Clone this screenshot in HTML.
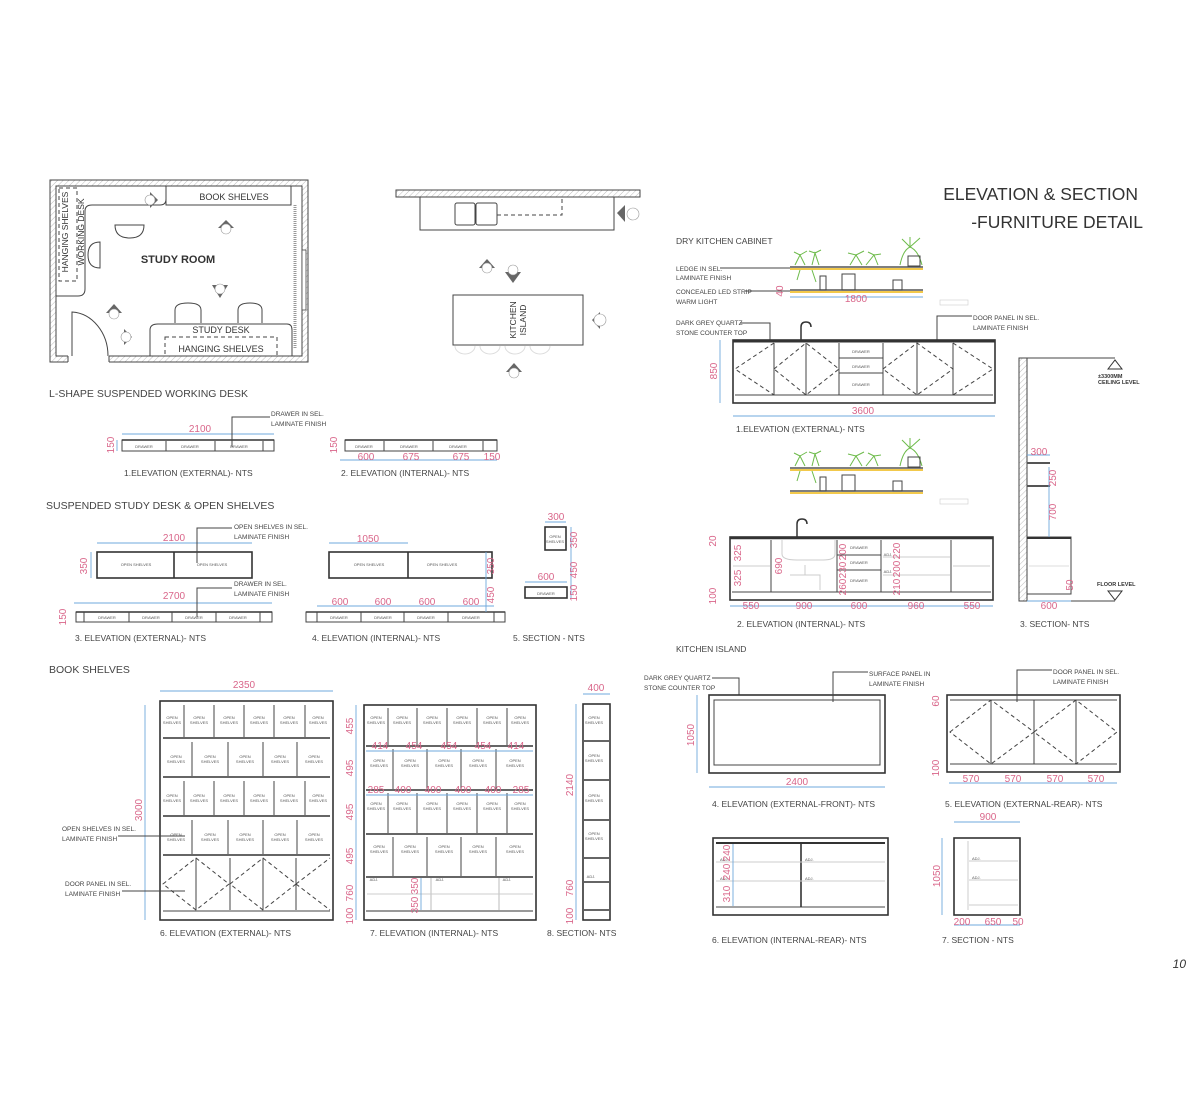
<!DOCTYPE html>
<html><head><meta charset="utf-8"><style>
html,body{margin:0;padding:0;background:#fff}
svg{display:block}
text{font-family:"Liberation Sans",sans-serif;fill:#333}
.l{stroke:#444;fill:none;stroke-width:1}
.t{stroke:#333;fill:none;stroke-width:1.6}
.d{stroke:#6fa8dc;fill:none;stroke-width:0.9}
.p,.p text{fill:#d9668a;font-size:10px}
.cap{font-size:8.5px;fill:#444}
.h{font-size:10.5px;fill:#444}
.n{font-size:6.5px;fill:#444}
.s,.s text{font-size:4px;fill:#555}
.dash{stroke:#444;fill:none;stroke-dasharray:4 3}
.g{stroke:#6dbb4a;fill:none;stroke-width:1}
.y{stroke:#f2c94c;stroke-width:2}
</style></head><body>
<svg width="1200" height="1120" viewBox="0 0 1200 1120" xmlns="http://www.w3.org/2000/svg">
<defs>
<pattern id="hat" width="4" height="4" patternUnits="userSpaceOnUse" patternTransform="rotate(45)"><line x1="0" y1="0" x2="0" y2="4" stroke="#aaa" stroke-width="0.8"/></pattern>
</defs>

<!-- FLOOR PLAN STUDY -->
<path d="M50,180 H308 V362 H50 Z M56,186 V356 H302 V186 Z" fill="url(#hat)" fill-rule="evenodd" stroke="#444"/>
<rect x="68" y="355" width="41" height="8" fill="#fff"/>
<line x1="68" y1="356" x2="68" y2="362" class="l"/><line x1="109" y1="356" x2="109" y2="362" class="l"/>
<path d="M72,356 V312 A38,44 0 0 1 108,356" class="l"/>
<line x1="295" y1="205" x2="295" y2="348" stroke="#999" stroke-width="3" stroke-dasharray="1 1"/>
<rect x="302" y="250" width="4" height="60" fill="#fff" stroke="#444" stroke-width="0.8"/>
<path d="M56,296 H78 Q85,296 85,289 V211 Q85,205 92,205 H160 Q166,205 166,199 V186" class="l"/>
<rect x="166" y="186" width="125" height="19" class="l"/>
<text x="234" y="200" text-anchor="middle" font-size="9">BOOK SHELVES</text>
<rect x="59" y="188" width="18" height="93" class="dash"/>
<text transform="translate(68,232) rotate(-90)" text-anchor="middle" font-size="8.5">HANGING SHELVES</text>
<text transform="translate(84,232) rotate(-90)" text-anchor="middle" font-size="8.5">WORKING DESK</text>
<text x="178" y="263" text-anchor="middle" font-size="11" font-weight="bold">STUDY ROOM</text>
<path d="M150,356 V330 Q150,324 158,324 H287 Q292,324 292,330 V356" class="l"/>
<text x="221" y="333" text-anchor="middle" font-size="9">STUDY DESK</text>
<rect x="165" y="337" width="112" height="19" class="dash"/>
<text x="221" y="352" text-anchor="middle" font-size="9">HANGING SHELVES</text>
<path d="M115,225 Q115,238 130,238 Q144,238 144,225 Z" class="l"/>
<path d="M100,242 Q88,242 88,255 Q88,268 100,268 Z" class="l"/>
<path d="M175,323 V310 Q175,303 188,303 Q201,303 201,310 V323" class="l"/>
<path d="M238,323 V310 Q238,303 250,303 Q262,303 262,310 V323" class="l"/>
<g fill="#666"><polygon points="150,192 158,200 150,208"/><polygon points="218,228 226,220 234,228"/><polygon points="212,285 220,298 228,285"/><polygon points="106,313 114,304 122,313"/><polygon points="124,329 132,337 124,345"/></g>
<g fill="#fff" stroke="#999" stroke-width="0.6"><circle cx="150" cy="200" r="5"/><circle cx="226" cy="229" r="5"/><circle cx="220" cy="289" r="5"/><circle cx="114" cy="314" r="5"/><circle cx="126" cy="337" r="5"/></g>

<!-- KITCHEN PLAN -->
<rect x="396" y="190" width="244" height="7" fill="url(#hat)" stroke="#444"/>
<rect x="420" y="197" width="194" height="33" class="l"/>
<rect x="455" y="203" width="20" height="22" rx="2" class="l"/><rect x="476" y="203" width="21" height="22" rx="2" class="l"/>
<path d="M497,215 H562 V197" class="dash"/>
<rect x="453" y="295" width="130" height="50" class="l"/>
<text transform="translate(516,320) rotate(-90)" text-anchor="middle" font-size="8.5">KITCHEN</text>
<text transform="translate(526,320) rotate(-90)" text-anchor="middle" font-size="8.5">ISLAND</text>
<g stroke="#ddd" fill="none"><path d="M455,346 a10,8 0 0 0 20,0"/><path d="M480,346 a10,8 0 0 0 20,0"/><path d="M505,346 a10,8 0 0 0 20,0"/><path d="M530,346 a10,8 0 0 0 20,0"/></g>
<g fill="#666"><polygon points="479,268 487,259 495,268"/><polygon points="505,272 513,283 521,272"/><polygon points="506,372 514,363 522,372"/><polygon points="625,205 617,213 625,222"/><polygon points="600,312 592,320 600,329"/></g>
<g fill="#fff" stroke="#999" stroke-width="0.6"><circle cx="487" cy="268" r="5"/><circle cx="513" cy="270" r="5"/><circle cx="514" cy="373" r="5"/><circle cx="633" cy="214" r="6"/><circle cx="600" cy="320" r="6"/></g>

<!-- TITLE -->
<text x="1138" y="200" text-anchor="end" font-size="17.5" fill="#222">ELEVATION &amp; SECTION</text>
<text x="1143" y="228" text-anchor="end" font-size="17.5" fill="#222">-FURNITURE DETAIL</text>

<!-- L-SHAPE -->
<text x="49" y="397" class="h">L-SHAPE SUSPENDED WORKING DESK</text>
<rect x="122" y="440" width="152" height="11" class="l"/><line x1="122" y1="440" x2="274" y2="440" class="t"/>
<line x1="166" y1="441" x2="166" y2="451" class="l"/><line x1="215" y1="441" x2="215" y2="451" class="l"/><line x1="263" y1="441" x2="263" y2="451" class="l"/>
<text x="144" y="448" class="s" text-anchor="middle">DRAWER</text><text x="190" y="448" class="s" text-anchor="middle">DRAWER</text><text x="239" y="448" class="s" text-anchor="middle">DRAWER</text>
<line x1="122" y1="434" x2="274" y2="434" class="d"/><text x="200" y="432" class="p" text-anchor="middle">2100</text>
<line x1="117" y1="440" x2="117" y2="451" class="d"/><text transform="translate(114,445) rotate(-90)" class="p" text-anchor="middle" font-size="8">150</text>
<path d="M232,447 V417 H270" class="l" stroke-width="0.6"/><text x="271" y="416" class="n">DRAWER IN SEL.</text><text x="271" y="426" class="n">LAMINATE FINISH</text>
<text x="124" y="476" class="cap">1.ELEVATION (EXTERNAL)- NTS</text>
<rect x="345" y="440" width="152" height="11" class="l"/><line x1="345" y1="440" x2="497" y2="440" class="t"/>
<line x1="384" y1="441" x2="384" y2="451" class="l"/><line x1="433" y1="441" x2="433" y2="451" class="l"/><line x1="483" y1="441" x2="483" y2="451" class="l"/>
<text x="364" y="448" class="s" text-anchor="middle">DRAWER</text><text x="409" y="448" class="s" text-anchor="middle">DRAWER</text><text x="458" y="448" class="s" text-anchor="middle">DRAWER</text>
<line x1="340" y1="460" x2="497" y2="460" class="d"/>
<text x="366" y="460" class="p" text-anchor="middle">600</text><text x="411" y="460" class="p" text-anchor="middle">675</text><text x="461" y="460" class="p" text-anchor="middle">675</text><text x="492" y="460" class="p" text-anchor="middle">150</text>
<text transform="translate(337,445) rotate(-90)" class="p" text-anchor="middle" font-size="8">150</text>
<text x="341" y="476" class="cap">2. ELEVATION (INTERNAL)- NTS</text>

<!-- SUSPENDED STUDY DESK -->
<text x="46" y="509" class="h">SUSPENDED STUDY DESK &amp; OPEN SHELVES</text>
<rect x="97" y="552" width="155" height="26" class="t"/><line x1="174" y1="552" x2="174" y2="578" class="t"/>
<text x="136" y="566" class="s" text-anchor="middle">OPEN SHELVES</text><text x="212" y="566" class="s" text-anchor="middle">OPEN SHELVES</text>
<line x1="97" y1="543" x2="252" y2="543" class="d"/><text x="174" y="541" class="p" text-anchor="middle">2100</text>
<text transform="translate(87,566) rotate(-90)" class="p" text-anchor="middle" font-size="9">350</text><line x1="91" y1="552" x2="91" y2="578" class="d"/>
<path d="M197,563 V528 H232" class="l" stroke-width="0.6"/><text x="234" y="529" class="n">OPEN SHELVES IN SEL.</text><text x="234" y="539" class="n">LAMINATE FINISH</text>
<rect x="76" y="612" width="196" height="10" class="l"/><line x1="76" y1="612" x2="272" y2="612" class="t"/>
<line x1="84" y1="612" x2="84" y2="622" class="l"/><line x1="129" y1="612" x2="129" y2="622" class="l"/><line x1="172" y1="612" x2="172" y2="622" class="l"/><line x1="216" y1="612" x2="216" y2="622" class="l"/><line x1="260" y1="612" x2="260" y2="622" class="l"/>
<text x="107" y="619" class="s" text-anchor="middle">DRAWER</text><text x="151" y="619" class="s" text-anchor="middle">DRAWER</text><text x="194" y="619" class="s" text-anchor="middle">DRAWER</text><text x="238" y="619" class="s" text-anchor="middle">DRAWER</text>
<line x1="74" y1="603" x2="272" y2="603" class="d"/><text x="174" y="599" class="p" text-anchor="middle">2700</text>
<text transform="translate(66,617) rotate(-90)" class="p" text-anchor="middle" font-size="9">150</text>
<path d="M197,617 V588 H232" class="l" stroke-width="0.6"/><text x="234" y="586" class="n">DRAWER IN SEL.</text><text x="234" y="596" class="n">LAMINATE FINISH</text>
<text x="75" y="641" class="cap">3. ELEVATION (EXTERNAL)- NTS</text>

<rect x="329" y="552" width="163" height="26" class="t"/><line x1="408" y1="552" x2="408" y2="578" class="t"/>
<text x="369" y="566" class="s" text-anchor="middle">OPEN SHELVES</text><text x="442" y="566" class="s" text-anchor="middle">OPEN SHELVES</text>
<line x1="329" y1="543" x2="408" y2="543" class="d"/><text x="368" y="542" class="p" text-anchor="middle">1050</text>
<line x1="306" y1="612" x2="505" y2="612" class="t"/><rect x="306" y="612" width="199" height="10" class="l"/>
<line x1="317" y1="612" x2="317" y2="622" class="l"/><line x1="361" y1="612" x2="361" y2="622" class="l"/><line x1="404" y1="612" x2="404" y2="622" class="l"/><line x1="448" y1="612" x2="448" y2="622" class="l"/><line x1="494" y1="612" x2="494" y2="622" class="l"/>
<text x="339" y="619" class="s" text-anchor="middle">DRAWER</text><text x="383" y="619" class="s" text-anchor="middle">DRAWER</text><text x="426" y="619" class="s" text-anchor="middle">DRAWER</text><text x="471" y="619" class="s" text-anchor="middle">DRAWER</text>
<line x1="317" y1="606" x2="494" y2="606" class="d"/>
<text x="340" y="605" class="p" text-anchor="middle">600</text><text x="383" y="605" class="p" text-anchor="middle">600</text><text x="427" y="605" class="p" text-anchor="middle">600</text><text x="471" y="605" class="p" text-anchor="middle">600</text>
<line x1="486" y1="552" x2="486" y2="612" class="d"/>
<text transform="translate(494,566) rotate(-90)" class="p" text-anchor="middle" font-size="9">350</text><text transform="translate(494,595) rotate(-90)" class="p" text-anchor="middle" font-size="9">450</text>
<text x="312" y="641" class="cap">4. ELEVATION (INTERNAL)- NTS</text>

<rect x="545" y="527" width="21" height="23" class="t"/><text x="555" y="538" class="s" text-anchor="middle">OPEN</text><text x="555" y="543" class="s" text-anchor="middle">SHELVES</text>
<line x1="545" y1="522" x2="566" y2="522" class="d"/><text x="556" y="520" class="p" text-anchor="middle" font-size="9">300</text>
<line x1="571" y1="527" x2="571" y2="598" class="d"/>
<text transform="translate(577,540) rotate(-90)" class="p" text-anchor="middle" font-size="8">350</text><text transform="translate(577,570) rotate(-90)" class="p" text-anchor="middle" font-size="8">450</text><text transform="translate(577,593) rotate(-90)" class="p" text-anchor="middle" font-size="8">150</text>
<rect x="525" y="587" width="42" height="11" class="t"/><text x="546" y="595" class="s" text-anchor="middle">DRAWER</text>
<line x1="525" y1="582" x2="567" y2="582" class="d"/><text x="546" y="580" class="p" text-anchor="middle" font-size="9">600</text>
<text x="513" y="641" class="cap">5. SECTION - NTS</text>

<!-- BOOK SHELVES -->
<text x="49" y="673" class="h">BOOK SHELVES</text>
<rect x="160" y="701" width="173" height="219" class="t"/>
<line x1="163" y1="738" x2="330" y2="738" class="t"/><line x1="163" y1="777" x2="330" y2="777" class="t"/><line x1="163" y1="816" x2="330" y2="816" class="t"/><line x1="163" y1="855" x2="330" y2="855" class="t"/><line x1="163" y1="911" x2="330" y2="911" class="l"/>
<g class="l">
<path d="M184,705V737M214,705V737M244,705V737M274,705V737M305,705V737"/>
<path d="M192,742V776M228,742V776M263,742V776M297,742V776"/>
<path d="M184,781V815M214,781V815M244,781V815M274,781V815M305,781V815"/>
<path d="M192,820V854M228,820V854M263,820V854M297,820V854"/>
<path d="M196,858V910M230,858V910M263,858V910M296,858V910"/>
</g>
<g class="dash"><path d="M163,884 L196,858 L229,884 L196,910 Z"/><path d="M230,884 L263,858 L296,884 L263,910 Z"/><path d="M296,884 L330,858 M296,884 L330,910"/></g>
<g class="s" text-anchor="middle">
<text x="172" y="719">OPEN</text><text x="172" y="724">SHELVES</text><text x="199" y="719">OPEN</text><text x="199" y="724">SHELVES</text><text x="229" y="719">OPEN</text><text x="229" y="724">SHELVES</text><text x="259" y="719">OPEN</text><text x="259" y="724">SHELVES</text><text x="289" y="719">OPEN</text><text x="289" y="724">SHELVES</text><text x="318" y="719">OPEN</text><text x="318" y="724">SHELVES</text>
<text x="176" y="758">OPEN</text><text x="176" y="763">SHELVES</text><text x="210" y="758">OPEN</text><text x="210" y="763">SHELVES</text><text x="245" y="758">OPEN</text><text x="245" y="763">SHELVES</text><text x="280" y="758">OPEN</text><text x="280" y="763">SHELVES</text><text x="314" y="758">OPEN</text><text x="314" y="763">SHELVES</text>
<text x="172" y="797">OPEN</text><text x="172" y="802">SHELVES</text><text x="199" y="797">OPEN</text><text x="199" y="802">SHELVES</text><text x="229" y="797">OPEN</text><text x="229" y="802">SHELVES</text><text x="259" y="797">OPEN</text><text x="259" y="802">SHELVES</text><text x="289" y="797">OPEN</text><text x="289" y="802">SHELVES</text><text x="318" y="797">OPEN</text><text x="318" y="802">SHELVES</text>
<text x="176" y="836">OPEN</text><text x="176" y="841">SHELVES</text><text x="210" y="836">OPEN</text><text x="210" y="841">SHELVES</text><text x="245" y="836">OPEN</text><text x="245" y="841">SHELVES</text><text x="280" y="836">OPEN</text><text x="280" y="841">SHELVES</text><text x="314" y="836">OPEN</text><text x="314" y="841">SHELVES</text>
</g>
<line x1="160" y1="691" x2="333" y2="691" class="d"/><text x="244" y="688" class="p" text-anchor="middle">2350</text>
<line x1="145" y1="705" x2="145" y2="920" class="d"/><text transform="translate(142,810) rotate(-90)" class="p" text-anchor="middle">3000</text>
<path d="M118,836 H185" class="l" stroke-width="0.6"/><text x="62" y="831" class="n">OPEN SHELVES IN SEL.</text><text x="62" y="841" class="n">LAMINATE FINISH</text>
<path d="M122,891 H185" class="l" stroke-width="0.6"/><text x="65" y="886" class="n">DOOR PANEL IN SEL.</text><text x="65" y="896" class="n">LAMINATE FINISH</text>
<text x="160" y="936" class="cap">6. ELEVATION (EXTERNAL)- NTS</text>

<rect x="364" y="705" width="172" height="215" class="t"/>
<g class="t"><line x1="366" y1="746" x2="533" y2="746"/><line x1="366" y1="790" x2="533" y2="790"/><line x1="366" y1="834" x2="533" y2="834"/><line x1="366" y1="877" x2="533" y2="877"/><line x1="366" y1="911" x2="533" y2="911" stroke-width="1"/></g>
<g class="l">
<path d="M388,708V745M417,708V745M447,708V745M477,708V745M507,708V745"/>
<path d="M393,749V789M427,749V789M461,749V789M496,749V789"/>
<path d="M388,793V833M417,793V833M447,793V833M477,793V833M507,793V833"/>
<path d="M393,837V876M427,837V876M461,837V876M496,837V876"/>
<path d="M431,878V910M499,878V910" stroke="#bbb"/>
<line x1="367" y1="894" x2="533" y2="894" stroke="#ccc"/>
</g>
<g class="d"><line x1="366" y1="751" x2="533" y2="751"/><line x1="366" y1="795" x2="533" y2="795"/></g>
<g class="p" text-anchor="middle" font-size="9"><text x="380" y="749">414</text><text x="414" y="749">454</text><text x="449" y="749">454</text><text x="483" y="749">454</text><text x="516" y="749">414</text>
<text x="376" y="793">285</text><text x="403" y="793">400</text><text x="433" y="793">400</text><text x="463" y="793">400</text><text x="493" y="793">400</text><text x="521" y="793">285</text></g>
<g class="s" text-anchor="middle">
<text x="376" y="719">OPEN</text><text x="376" y="724">SHELVES</text><text x="402" y="719">OPEN</text><text x="402" y="724">SHELVES</text><text x="432" y="719">OPEN</text><text x="432" y="724">SHELVES</text><text x="462" y="719">OPEN</text><text x="462" y="724">SHELVES</text><text x="492" y="719">OPEN</text><text x="492" y="724">SHELVES</text><text x="520" y="719">OPEN</text><text x="520" y="724">SHELVES</text>
<text x="379" y="762">OPEN</text><text x="379" y="767">SHELVES</text><text x="410" y="762">OPEN</text><text x="410" y="767">SHELVES</text><text x="444" y="762">OPEN</text><text x="444" y="767">SHELVES</text><text x="478" y="762">OPEN</text><text x="478" y="767">SHELVES</text><text x="515" y="762">OPEN</text><text x="515" y="767">SHELVES</text>
<text x="376" y="805">OPEN</text><text x="376" y="810">SHELVES</text><text x="402" y="805">OPEN</text><text x="402" y="810">SHELVES</text><text x="432" y="805">OPEN</text><text x="432" y="810">SHELVES</text><text x="462" y="805">OPEN</text><text x="462" y="810">SHELVES</text><text x="492" y="805">OPEN</text><text x="492" y="810">SHELVES</text><text x="520" y="805">OPEN</text><text x="520" y="810">SHELVES</text>
<text x="379" y="848">OPEN</text><text x="379" y="853">SHELVES</text><text x="410" y="848">OPEN</text><text x="410" y="853">SHELVES</text><text x="444" y="848">OPEN</text><text x="444" y="853">SHELVES</text><text x="478" y="848">OPEN</text><text x="478" y="853">SHELVES</text><text x="515" y="848">OPEN</text><text x="515" y="853">SHELVES</text>
<text x="374" y="881">ADJ.</text><text x="440" y="881">ADJ.</text><text x="507" y="881">ADJ.</text>
</g>
<line x1="356" y1="705" x2="356" y2="920" class="d"/>
<g class="p" text-anchor="middle" font-size="9"><text transform="translate(353,726) rotate(-90)">455</text><text transform="translate(353,768) rotate(-90)">495</text><text transform="translate(353,812) rotate(-90)">495</text><text transform="translate(353,856) rotate(-90)">495</text><text transform="translate(353,893) rotate(-90)">760</text><text transform="translate(353,916) rotate(-90)">100</text>
<text transform="translate(418,886) rotate(-90)">350</text><text transform="translate(418,905) rotate(-90)">350</text></g>
<line x1="421" y1="878" x2="421" y2="910" class="d"/>
<text x="370" y="936" class="cap">7. ELEVATION (INTERNAL)- NTS</text>

<rect x="583" y="704" width="27" height="216" class="t"/>
<g class="t"><line x1="584" y1="741" x2="609" y2="741"/><line x1="584" y1="780" x2="609" y2="780"/><line x1="584" y1="820" x2="609" y2="820"/><line x1="584" y1="858" x2="609" y2="858"/><line x1="584" y1="910" x2="609" y2="910"/></g>
<line x1="584" y1="882" x2="609" y2="882" class="t"/>
<g class="s" text-anchor="middle"><text x="594" y="719">OPEN</text><text x="594" y="724">SHELVES</text><text x="594" y="757">OPEN</text><text x="594" y="762">SHELVES</text><text x="594" y="797">OPEN</text><text x="594" y="802">SHELVES</text><text x="594" y="835">OPEN</text><text x="594" y="840">SHELVES</text><text x="591" y="878">ADJ.</text></g>
<line x1="583" y1="694" x2="610" y2="694" class="d"/><text x="596" y="691" class="p" text-anchor="middle" font-size="9">400</text>
<line x1="576" y1="704" x2="576" y2="920" class="d"/>
<g class="p" text-anchor="middle" font-size="9"><text transform="translate(573,785) rotate(-90)">2140</text><text transform="translate(573,888) rotate(-90)">760</text><text transform="translate(573,916) rotate(-90)">100</text></g>
<text x="547" y="936" class="cap">8. SECTION- NTS</text>

<!-- DRY KITCHEN -->
<text x="676" y="244" class="cap" font-size="9">DRY KITCHEN CABINET</text>
<text x="676" y="271" class="n">LEDGE IN SEL.</text><text x="676" y="280" class="n">LAMINATE FINISH</text>
<line x1="720" y1="268" x2="790" y2="268" class="l" stroke-width="0.6"/>
<text x="676" y="294" class="n">CONCEALED LED STRIP</text><text x="676" y="304" class="n">WARM LIGHT</text>
<line x1="745" y1="291" x2="790" y2="291" class="l" stroke-width="0.6"/>
<g id="shelf">
<line x1="790" y1="267" x2="923" y2="267" stroke="#555" stroke-width="1.5"/><line x1="790" y1="269" x2="923" y2="269" class="y"/>
<line x1="790" y1="290" x2="923" y2="290" stroke="#555" stroke-width="1.5"/><line x1="790" y1="292" x2="923" y2="292" class="y"/>
<g class="g"><path d="M795,265 l5,-10 l5,10 M800,255 l-6,-3 M800,255 l7,-4 M812,265 l3,-12 l4,12 M815,253 l-6,-2 M815,253 l6,-3 M800,270 l-3,10 M812,270 l4,12"/>
<path d="M850,265 l6,-10 l6,10 M856,255 l-8,-2 M856,255 l8,-4 M866,265 l8,-10 l4,10 M874,255 l-6,-3 M874,255 l7,-1 M900,265 q3,-15 10,-18 q8,3 12,18 M910,247 l-8,-8 M910,247 l10,-9 M910,247 l0,-10"/></g>
<g class="l" stroke-width="0.5"><rect x="820" y="276" width="6" height="14"/><rect x="842" y="274" width="13" height="16"/><rect x="893" y="280" width="9" height="10"/><rect x="908" y="256" width="12" height="10"/></g>
</g>
<line x1="790" y1="297" x2="923" y2="297" class="d"/><text x="856" y="302" class="p" text-anchor="middle" font-size="9">1800</text>
<text transform="translate(783,291) rotate(-90)" class="p" text-anchor="middle" font-size="8">40</text>
<rect x="940" y="300" width="28" height="5" stroke="#ccc" fill="none" stroke-width="0.6"/>

<text x="676" y="325" class="n">DARK GREY QUARTZ</text><text x="676" y="335" class="n">STONE COUNTER TOP</text>
<path d="M740,323 H770 V340" class="l" stroke-width="0.6"/>
<path d="M937,340 V316 H972" class="l" stroke-width="0.6"/><text x="973" y="320" class="n">DOOR PANEL IN SEL.</text><text x="973" y="330" class="n">LAMINATE FINISH</text>
<rect x="733" y="340" width="262" height="63" class="t"/><line x1="733" y1="341" x2="995" y2="341" stroke="#333" stroke-width="3"/>
<line x1="735" y1="395" x2="993" y2="395" class="l"/>
<g class="l"><path d="M774,343V395M806,343V395M839,343V395M883,343V395M917,343V395M953,343V395M839,358H883M839,373H883"/></g>
<g class="dash" stroke-dasharray="5 2"><path d="M774,343 L735,369 L774,395 M774,369 L806,343 L839,369 L806,395 Z M883,369 L917,343 L953,369 L917,395 Z M953,343 L993,369 L953,395"/></g>
<path d="M801,340 V327 q0,-5 5,-5 q5,0 5,5" stroke="#333" fill="none" stroke-width="1.5"/>
<g class="s" text-anchor="middle"><text x="861" y="353">DRAWER</text><text x="861" y="368">DRAWER</text><text x="861" y="386">DRAWER</text></g>
<line x1="720" y1="340" x2="720" y2="403" class="d"/><text transform="translate(717,371) rotate(-90)" class="p" text-anchor="middle" font-size="9">850</text>
<line x1="733" y1="416" x2="995" y2="416" class="d"/><text x="863" y="414" class="p" text-anchor="middle" font-size="10">3600</text>
<text x="736" y="432" class="cap">1.ELEVATION (EXTERNAL)- NTS</text>

<use href="#shelf" transform="translate(0,201)"/>
<rect x="940" y="499" width="28" height="5" stroke="#ccc" fill="none" stroke-width="0.6"/>
<rect x="730" y="537" width="263" height="63" class="t"/><line x1="730" y1="538" x2="993" y2="538" stroke="#333" stroke-width="2.5"/>
<line x1="732" y1="592" x2="991" y2="592" class="l"/>
<g class="l"><path d="M771,540V592M837,540V592M881,540V592M951,540V592M837,555H881M837,570H881"/></g>
<g stroke="#ccc" fill="none"><path d="M733,566H770M883,557H950M883,575H950M953,566H990M782,540 v14 q0,6 15,6 h26 q12,0 12,-6 v-14 M805,565 v10 M790,575 h30 v15"/></g>
<path d="M797,537 V524 q0,-5 5,-5 q5,0 5,5" stroke="#333" fill="none" stroke-width="1.5"/>
<g class="s" text-anchor="middle"><text x="859" y="549">DRAWER</text><text x="859" y="564">DRAWER</text><text x="859" y="582">DRAWER</text><text x="888" y="556">ADJ.</text><text x="888" y="573">ADJ.</text></g>
<line x1="730" y1="606" x2="993" y2="606" class="d"/>
<g class="p" text-anchor="middle" font-size="9"><text x="751" y="609">550</text><text x="804" y="609">900</text><text x="859" y="609">600</text><text x="916" y="609">960</text><text x="972" y="609">550</text>
<text transform="translate(741,553) rotate(-90)">325</text><text transform="translate(741,578) rotate(-90)">325</text><text transform="translate(782,566) rotate(-90)">690</text>
<text transform="translate(846,552) rotate(-90)">200</text><text transform="translate(846,570) rotate(-90)">230</text><text transform="translate(846,587) rotate(-90)">260</text>
<text transform="translate(900,551) rotate(-90)">220</text><text transform="translate(900,569) rotate(-90)">200</text><text transform="translate(900,587) rotate(-90)">210</text>
<text transform="translate(716,541) rotate(-90)">20</text><text transform="translate(716,596) rotate(-90)">100</text></g>
<text x="737" y="627" class="cap">2. ELEVATION (INTERNAL)- NTS</text>

<rect x="1019" y="358" width="8" height="243" fill="url(#hat)" stroke="#444"/>
<line x1="1027" y1="358" x2="1115" y2="358" class="l"/><polygon points="1108,369 1115,360 1122,369" fill="none" stroke="#333"/>
<text x="1098" y="378" font-size="5.5" font-weight="bold">±3300MM</text><text x="1098" y="384" font-size="5.5" font-weight="bold">CEILING LEVEL</text>
<line x1="1027" y1="601" x2="1115" y2="601" class="l"/><polygon points="1108,591 1115,600 1122,591" fill="none" stroke="#333"/>
<text x="1097" y="586" font-size="5.5" font-weight="bold">FLOOR LEVEL</text>
<rect x="1027" y="537" width="44" height="57" class="l"/><line x1="1027" y1="538" x2="1071" y2="538" stroke="#333" stroke-width="2"/>
<line x1="1027" y1="463" x2="1050" y2="463" stroke="#555" stroke-width="2"/><line x1="1027" y1="486" x2="1050" y2="486" stroke="#555" stroke-width="2"/>
<line x1="1029" y1="566" x2="1069" y2="566" stroke="#ddd"/>
<line x1="1049" y1="467" x2="1049" y2="537" class="d"/><line x1="1027" y1="455" x2="1050" y2="455" class="d"/>
<g class="p" text-anchor="middle" font-size="9"><text x="1039" y="455">300</text><text transform="translate(1056,478) rotate(-90)">250</text><text transform="translate(1056,512) rotate(-90)">700</text><text transform="translate(1073,585) rotate(-90)">50</text><text x="1049" y="609">600</text></g>
<line x1="1027" y1="601" x2="1071" y2="601" class="d"/>
<text x="1020" y="627" class="cap">3. SECTION- NTS</text>

<!-- KITCHEN ISLAND -->
<text x="676" y="652" class="cap" font-size="9">KITCHEN ISLAND</text>
<text x="644" y="680" class="n">DARK GREY QUARTZ</text><text x="644" y="690" class="n">STONE COUNTER TOP</text>
<path d="M712,678 H739 V695" class="l" stroke-width="0.6"/>
<rect x="709" y="695" width="176" height="78" class="t"/><rect x="714" y="700" width="166" height="65" class="l"/>
<path d="M833,702 V672 H868" class="l" stroke-width="0.6"/><text x="869" y="676" class="n">SURFACE PANEL IN</text><text x="869" y="686" class="n">LAMINATE FINISH</text>
<line x1="697" y1="695" x2="697" y2="773" class="d"/><text transform="translate(694,735) rotate(-90)" class="p" text-anchor="middle" font-size="9">1050</text>
<line x1="709" y1="787" x2="885" y2="787" class="d"/><text x="797" y="785" class="p" text-anchor="middle">2400</text>
<text x="712" y="807" class="cap">4. ELEVATION (EXTERNAL-FRONT)- NTS</text>

<rect x="947" y="695" width="173" height="77" class="t"/><line x1="950" y1="700" x2="1117" y2="700" class="l"/><line x1="950" y1="764" x2="1117" y2="764" class="l"/>
<g class="l"><path d="M991,700V764M1034,700V764M1076,700V764"/></g>
<g class="dash" stroke-dasharray="5 2"><path d="M950,732 L991,700 L1034,732 L991,764 Z M1034,732 L1076,700 L1117,732 L1076,764 Z"/></g>
<path d="M1017,702 V670 H1052" class="l" stroke-width="0.6"/><text x="1053" y="674" class="n">DOOR PANEL IN SEL.</text><text x="1053" y="684" class="n">LAMINATE FINISH</text>
<line x1="949" y1="783" x2="1117" y2="783" class="d"/>
<g class="p" text-anchor="middle" font-size="9"><text x="971" y="782">570</text><text x="1013" y="782">570</text><text x="1055" y="782">570</text><text x="1096" y="782">570</text>
<text transform="translate(939,701) rotate(-90)">60</text><text transform="translate(939,768) rotate(-90)">100</text></g>
<text x="945" y="807" class="cap">5. ELEVATION (EXTERNAL-REAR)- NTS</text>

<rect x="713" y="838" width="175" height="77" class="t"/><line x1="716" y1="843" x2="885" y2="843" stroke="#333" stroke-width="2"/><line x1="716" y1="907" x2="885" y2="907" class="l"/>
<line x1="801" y1="843" x2="801" y2="907" class="t"/>
<g stroke="#ccc"><line x1="716" y1="862" x2="885" y2="862"/><line x1="716" y1="881" x2="885" y2="881"/></g>
<g class="s"><text x="720" y="861">ADJ.</text><text x="720" y="880">ADJ.</text><text x="805" y="861">ADJ.</text><text x="805" y="880">ADJ.</text></g>
<line x1="733" y1="844" x2="733" y2="906" class="d"/>
<g class="p" text-anchor="middle" font-size="9"><text transform="translate(730,853) rotate(-90)">240</text><text transform="translate(730,872) rotate(-90)">240</text><text transform="translate(730,894) rotate(-90)">310</text></g>
<text x="712" y="943" class="cap">6. ELEVATION (INTERNAL-REAR)- NTS</text>

<rect x="954" y="838" width="66" height="77" class="t"/><line x1="968" y1="841" x2="968" y2="910" stroke="#ccc"/>
<g stroke="#ccc"><line x1="969" y1="861" x2="1018" y2="861"/><line x1="969" y1="880" x2="1018" y2="880"/><line x1="969" y1="905" x2="1018" y2="905"/></g>
<g class="s"><text x="972" y="860">ADJ.</text><text x="972" y="879">ADJ.</text></g>
<line x1="954" y1="822" x2="1020" y2="822" class="d"/><text x="988" y="820" class="p" text-anchor="middle" font-size="9">900</text>
<line x1="942" y1="838" x2="942" y2="915" class="d"/><text transform="translate(940,876) rotate(-90)" class="p" text-anchor="middle" font-size="9">1050</text>
<line x1="954" y1="925" x2="1020" y2="925" class="d"/>
<g class="p" text-anchor="middle" font-size="9"><text x="962" y="925">200</text><text x="993" y="925">650</text><text x="1018" y="925">50</text></g>
<text x="942" y="943" class="cap">7. SECTION - NTS</text>

<text x="1186" y="968" text-anchor="end" font-size="12" font-style="italic" fill="#222">10</text>
</svg>
</body></html>
